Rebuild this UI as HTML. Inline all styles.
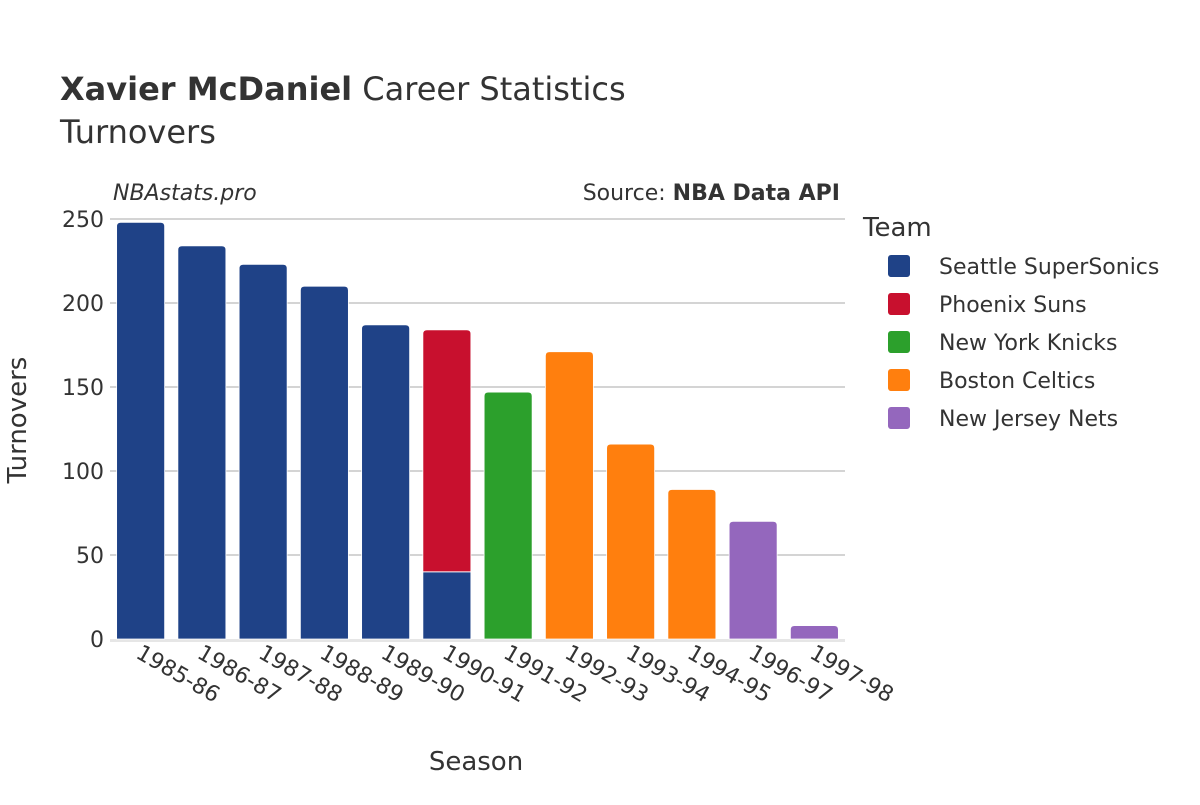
<!DOCTYPE html>
<html><head><meta charset="utf-8">
<style>
body{margin:0;background:#fff;}
svg{font-family:"DejaVu Sans","Liberation Sans",sans-serif;}
</style></head>
<body>
<svg id="chart" width="1200" height="800" xmlns="http://www.w3.org/2000/svg">
<rect width="1200" height="800" fill="#fff"/>
<text x="60" y="100" font-size="32" fill="#333"><tspan font-weight="bold">Xavier McDaniel</tspan> Career Statistics</text>
<text x="60" y="143" font-size="32" fill="#333">Turnovers</text>
<text x="113" y="200" font-size="22" font-style="italic" fill="#333">NBAstats.pro</text>
<text x="840" y="200" font-size="22" text-anchor="end" fill="#333">Source: <tspan font-weight="bold">NBA Data API</tspan></text>
<g id="grid"></g>
<g id="bars"></g>
<g id="xticks"></g>
<text transform="translate(26,420) rotate(-90)" font-size="26" text-anchor="middle" fill="#333">Turnovers</text>
<text x="476" y="770" font-size="26" text-anchor="middle" fill="#333">Season</text>
<text x="863" y="236" font-size="26" fill="#333">Team</text>
<g id="legend"></g>
</svg>
<script>
const seasons=["1985-86","1986-87","1987-88","1988-89","1989-90","1990-91","1991-92","1992-93","1993-94","1994-95","1996-97","1997-98"];
const teams=["Seattle SuperSonics","Phoenix Suns","New York Knicks","Boston Celtics","New Jersey Nets"];
const colors=["#1f4287","#c8102e","#2ca02c","#ff7f0e","#9467bd"];
const seattle=[248,234,223,210,187,40,0,0,0,0,0,0];
const phoenix=[0,0,0,0,0,144,0,0,0,0,0,0];
const knicks=[0,0,0,0,0,0,147,0,0,0,0,0];
const celtics=[0,0,0,0,0,0,0,171,116,89,0,0];
const nets=[0,0,0,0,0,0,0,0,0,0,70,8];
const yTicks=[0,50,100,150,200,250];
const series=[seattle,phoenix,knicks,celtics,nets];
const NS="http://www.w3.org/2000/svg";
const x0=110,x1=845,y0=639,yTop=219,yMax=250;
const band=(x1-x0)/seasons.length;
const y=v=>y0-(v/yMax)*(y0-yTop);
const xc=i=>x0+band*(i+0.5);
function mk(tag,attrs,parent){const e=document.createElementNS(NS,tag);for(const k in attrs)e.setAttribute(k,attrs[k]);parent.appendChild(e);return e;}
const grid=document.getElementById('grid');
yTicks.forEach(t=>{
  if(t>0){const l=mk('line',{x1:x0,x2:x1,y1:y(t),y2:y(t),stroke:'#a8a8a8','stroke-width':1},grid);
  
  }
  const tx=mk('text',{x:104,y:y(t)+8,'font-size':22,'text-anchor':'end',fill:'#333'},grid);
  
  
  tx.textContent=t;
});
const zl=mk('line',{x1:x0,x2:x1,y1:y0+1.5,y2:y0+1.5,stroke:'#e6e6e6','stroke-width':3},grid);


const bars=document.getElementById('bars');
const bw=48;
seasons.forEach((s,i)=>{
  let base=0;
  const total=series.reduce((a,sr)=>a+sr[i],0);
  series.forEach((sr,k)=>{
    const v=sr[i]; if(!v)return;
    const top=base+v, isTop=top===total;
    const xl=xc(i)-bw/2, xr=xc(i)+bw/2, yt=y(top), yb=y(base), r=isTop?4:0;
    const d=`M${xl},${yb}L${xl},${yt+r}Q${xl},${yt} ${xl+r},${yt}L${xr-r},${yt}Q${xr},${yt} ${xr},${yt+r}L${xr},${yb}Z`;
    const p=mk('path',{d:d,fill:colors[k],stroke:'#fff','stroke-width':0.8},bars);
    
    
    base=top;
  });
});
const xt=document.getElementById('xticks');
seasons.forEach((s,i)=>{
  const t=mk('text',{transform:`translate(${xc(i)-6},${657}) rotate(30)`,'font-size':22,fill:'#333'},xt);
  
  
  t.textContent=s;
});
const lg=document.getElementById('legend');
teams.forEach((tm,k)=>{
  const g=mk('g',{},lg);
  
  
  const yy=266+k*38;
  mk('rect',{x:888,y:yy-11,width:22,height:22,rx:3,fill:colors[k]},g);
  const t=mk('text',{x:939,y:yy+8,'font-size':22,fill:'#333'},g);
  t.textContent=tm;
});
</script>
</body></html>
